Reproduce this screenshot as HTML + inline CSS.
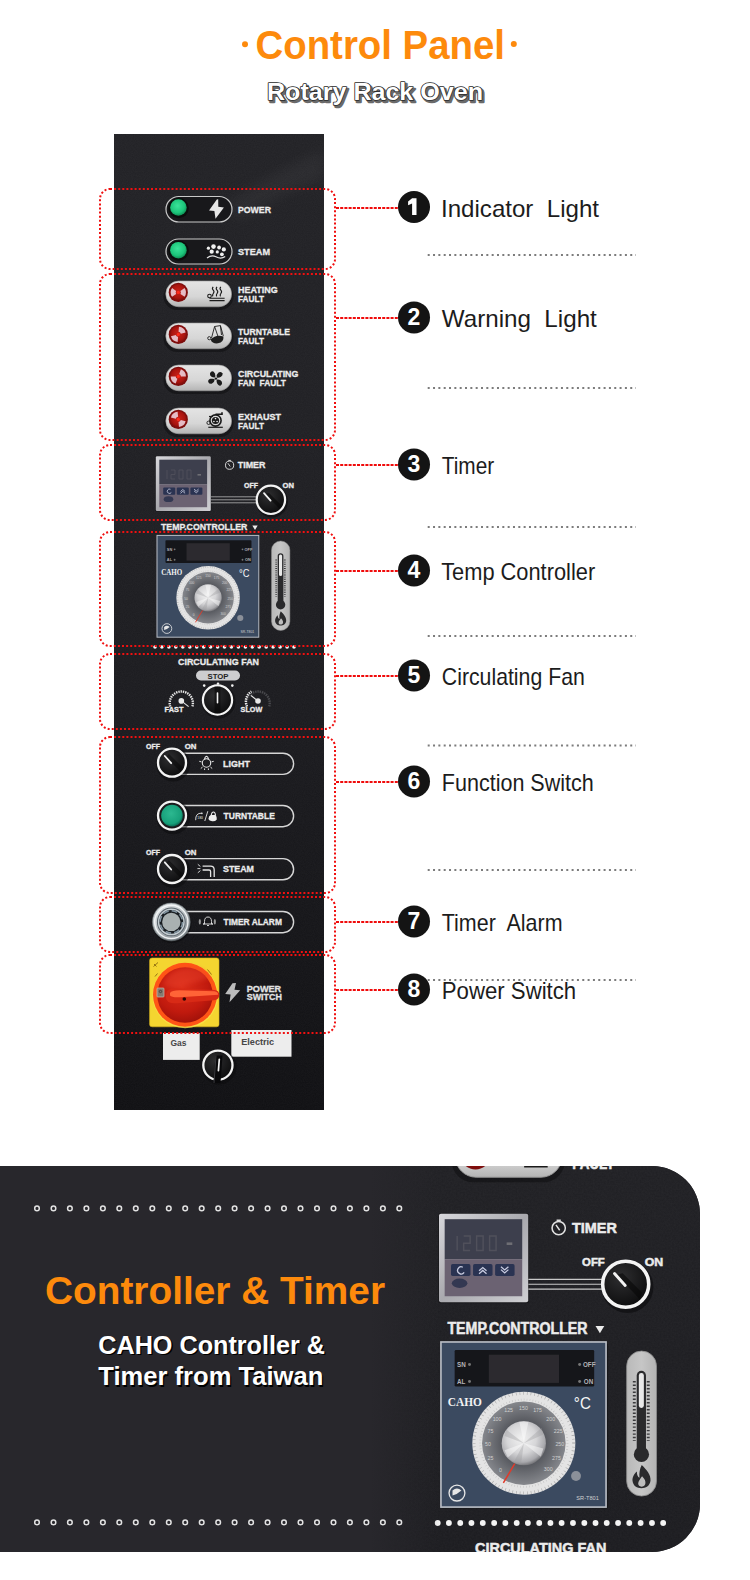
<!DOCTYPE html>
<html><head><meta charset="utf-8">
<style>
html,body{margin:0;padding:0;background:#fff;width:750px;height:1580px;overflow:hidden;}
body{position:relative;font-family:"Liberation Sans",sans-serif;}
svg{position:absolute;left:0;top:0;}
</style></head>
<body>
<svg width="750" height="1580" viewBox="0 0 750 1580" font-family="Liberation Sans, sans-serif">
<defs>
  <filter id="noise" x="0" y="0" width="100%" height="100%">
    <feTurbulence type="fractalNoise" baseFrequency="0.9" numOctaves="2" seed="3" result="n"/>
    <feColorMatrix in="n" type="matrix" values="0 0 0 0 1  0 0 0 0 1  0 0 0 0 1  0 0 0 0.04 0"/>
  </filter>

  <radialGradient id="gLed" cx="0.45" cy="0.4" r="0.6">
    <stop offset="0" stop-color="#3be39a"/><stop offset="0.7" stop-color="#1cc57a"/><stop offset="1" stop-color="#0f8f55"/>
  </radialGradient>
  <linearGradient id="gPill" x1="0" y1="0" x2="0" y2="1">
    <stop offset="0" stop-color="#e4e4e4"/><stop offset="0.6" stop-color="#d6d6d6"/><stop offset="1" stop-color="#b4b4b4"/>
  </linearGradient>
  <radialGradient id="gRed" cx="0.5" cy="0.45" r="0.55">
    <stop offset="0" stop-color="#c8231a"/><stop offset="0.7" stop-color="#a9140f"/><stop offset="1" stop-color="#7a0c09"/>
  </radialGradient>

  <linearGradient id="gSilver" x1="0" y1="0" x2="1" y2="1">
    <stop offset="0" stop-color="#d8d8dc"/><stop offset="0.5" stop-color="#a9a9ae"/><stop offset="1" stop-color="#cfcfd3"/>
  </linearGradient>
  <radialGradient id="gKnob" cx="0.4" cy="0.35" r="0.7">
    <stop offset="0" stop-color="#2e2e30"/><stop offset="1" stop-color="#0b0b0c"/>
  </radialGradient>
  <radialGradient id="gDisc" cx="0.5" cy="0.5" r="0.5">
    <stop offset="0.5" stop-color="#55575d"/><stop offset="1" stop-color="#85878c"/>
  </radialGradient>
  <radialGradient id="gKnobS" cx="0.45" cy="0.4" r="0.6">
    <stop offset="0" stop-color="#f2f2f2"/><stop offset="0.55" stop-color="#d6d6d8"/><stop offset="0.88" stop-color="#a9a9ad"/><stop offset="1" stop-color="#7a7a7e"/>
  </radialGradient>
  <linearGradient id="gThermo" x1="0" y1="0" x2="1" y2="0">
    <stop offset="0" stop-color="#b9b9b9"/><stop offset="0.5" stop-color="#c6c6c6"/><stop offset="1" stop-color="#b3b3b3"/>
  </linearGradient>

  <radialGradient id="gTeal" cx="0.45" cy="0.4" r="0.6">
    <stop offset="0" stop-color="#2cb890"/><stop offset="0.8" stop-color="#17a07a"/><stop offset="1" stop-color="#0c6a55"/>
  </radialGradient>
  <radialGradient id="gMetal" cx="0.4" cy="0.35" r="0.65">
    <stop offset="0" stop-color="#f2f4f5"/><stop offset="0.6" stop-color="#c5cbce"/><stop offset="1" stop-color="#7f878b"/>
  </radialGradient>
  <radialGradient id="gRedDial" cx="0.45" cy="0.35" r="0.65">
    <stop offset="0" stop-color="#dc2e1a"/><stop offset="0.7" stop-color="#c11a0e"/><stop offset="1" stop-color="#a3120a"/>
  </radialGradient>

  <linearGradient id="gFade" x1="0" y1="0" x2="1" y2="0">
    <stop offset="0" stop-color="#28272c"/><stop offset="0.84" stop-color="#28272c"/><stop offset="1" stop-color="#28272c" stop-opacity="0"/>
  </linearGradient>

  <linearGradient id="gPanel" x1="0" y1="134" x2="0" y2="1110" gradientUnits="userSpaceOnUse">
    <stop offset="0" stop-color="#212125"/><stop offset="0.3" stop-color="#1f1f23"/><stop offset="0.6" stop-color="#1a1a1e"/><stop offset="1" stop-color="#0f0f12"/>
  </linearGradient>

  <filter id="blur5" x="-50%" y="-50%" width="200%" height="200%"><feGaussianBlur stdDeviation="6"/></filter>

  <filter id="blur1" x="-50%" y="-50%" width="200%" height="200%"><feGaussianBlur stdDeviation="2"/></filter>
</defs>

<!-- ===== TITLE ===== -->
<g id="title">
  <circle cx="245" cy="44.3" r="3" fill="#fd8a0c"/>
  <circle cx="513.8" cy="44" r="3" fill="#fd8a0c"/>
  <text x="255.5" y="59" font-size="40" font-weight="bold" fill="#fd8a0c" textLength="249.5" lengthAdjust="spacingAndGlyphs">Control Panel</text>
  <text x="267" y="100.3" font-size="24" font-weight="bold" fill="#6a6a6a" stroke="#6a6a6a" stroke-width="2.4" stroke-linejoin="round" transform="translate(1.8,1.8)" textLength="216" lengthAdjust="spacingAndGlyphs">Rotary Rack Oven</text>
  <text x="267" y="100.3" font-size="24" font-weight="bold" fill="#fff" stroke="#2a2a2a" stroke-width="1.6" stroke-linejoin="round" paint-order="stroke" textLength="216" lengthAdjust="spacingAndGlyphs">Rotary Rack Oven</text>
</g>

<!-- ===== PANEL ===== -->
<g id="panel">
<g id="pc">
  <rect x="114" y="134" width="210" height="976" fill="url(#gPanel)"/>
  <rect x="114" y="134" width="210" height="976" filter="url(#noise)" opacity="1"/>
  <path d="M225 205 Q275 170 324 150 L324 180 Q285 190 240 220 Z" fill="#ffffff" opacity="0.035" filter="url(#blur5)"/>
  <!-- box1 -->
  <g id="b1">
    <rect x="166" y="196.5" width="66" height="25.5" rx="12.75" fill="#18181b" stroke="#c9c9c9" stroke-width="1.2"/>
    <rect x="166" y="239" width="66" height="25" rx="12.5" fill="#18181b" stroke="#c9c9c9" stroke-width="1.2"/>
    <circle cx="178.6" cy="208" r="10.2" fill="#0b0d0c"/>
    <circle cx="178.4" cy="207.5" r="8.3" fill="url(#gLed)"/>
    <circle cx="178.6" cy="250.6" r="10.2" fill="#0b0d0c"/>
    <circle cx="178.4" cy="250.2" r="8.3" fill="url(#gLed)"/>
    <path d="M216.8 199.5 L209 210.6 L214.4 211 L215.5 218.8 L223.9 207.4 L218.3 206.8 L218.2 199.3 Z" fill="#e6e6e6"/>
    <g fill="#f0f0f0">
      <circle cx="208.4" cy="248.2" r="1.6"/><circle cx="213.5" cy="246.6" r="2.3"/><circle cx="219.1" cy="247.5" r="1.9"/>
      <circle cx="223.8" cy="249.4" r="2.1"/><circle cx="211.7" cy="251.7" r="2.1"/><circle cx="217.3" cy="251.9" r="1.6"/><circle cx="221.9" cy="254.3" r="1.9"/>
    </g>
    <path d="M207 258 Q211.5 254.6 216 256.8 Q221 259.4 225.2 256.6" fill="none" stroke="#e6e6e6" stroke-width="1.2"/>
    <g fill="#ececec" stroke="#ececec" stroke-width="0.3" font-weight="bold" font-size="9.6">
      <text x="238" y="212.7" textLength="33" lengthAdjust="spacingAndGlyphs">POWER</text>
      <text x="238" y="255.3" textLength="32" lengthAdjust="spacingAndGlyphs">STEAM</text>
    </g>
  </g>
  <!-- box2 -->
  <g id="b2">
    <g id="rp">
      <rect x="163.5" y="283" width="70" height="27" rx="13.5" fill="#0e0e10" opacity="0.55"/>
      <rect x="165.8" y="281" width="65.8" height="25.8" rx="12.9" fill="url(#gPill)" stroke="#9c9c9c" stroke-width="0.6"/>
      <circle cx="178.3" cy="292.4" r="9.6" fill="#7d0e0e"/>
      <circle cx="178.3" cy="292.4" r="8.4" fill="url(#gRed)"/>
      
      
      
    </g>
    <use href="#rp" y="42"/>
    <use href="#rp" y="84"/>
    <use href="#rp" y="127"/>
    <g transform="translate(0 0) rotate(0 178.3 292.4)"><path d="M172.07 296.76 A7.6 7.6 0 0 1 172.07 288.04 L176.17 290.91 A2.6 2.6 0 0 0 176.17 293.89 Z" fill="#eed8e4" opacity="0.85"/><path d="M184.53 288.04 A7.6 7.6 0 0 1 184.53 296.76 L180.43 293.89 A2.6 2.6 0 0 0 180.43 290.91 Z" fill="#eed8e4" opacity="0.85"/></g><circle cx="178.3" cy="292.4" r="1.6" fill="#ff2a1a"/><g transform="translate(0 42) rotate(-50 178.3 292.4)"><path d="M172.07 296.76 A7.6 7.6 0 0 1 172.07 288.04 L176.17 290.91 A2.6 2.6 0 0 0 176.17 293.89 Z" fill="#eed8e4" opacity="0.85"/><path d="M184.53 288.04 A7.6 7.6 0 0 1 184.53 296.76 L180.43 293.89 A2.6 2.6 0 0 0 180.43 290.91 Z" fill="#eed8e4" opacity="0.85"/></g><circle cx="178.3" cy="334.4" r="1.6" fill="#ff2a1a"/><g transform="translate(0 84) rotate(-35 178.3 292.4)"><path d="M172.07 296.76 A7.6 7.6 0 0 1 172.07 288.04 L176.17 290.91 A2.6 2.6 0 0 0 176.17 293.89 Z" fill="#eed8e4" opacity="0.85"/><path d="M184.53 288.04 A7.6 7.6 0 0 1 184.53 296.76 L180.43 293.89 A2.6 2.6 0 0 0 180.43 290.91 Z" fill="#eed8e4" opacity="0.85"/></g><circle cx="178.3" cy="376.4" r="1.6" fill="#ff2a1a"/><g transform="translate(0 127) rotate(50 178.3 292.4)"><path d="M172.07 296.76 A7.6 7.6 0 0 1 172.07 288.04 L176.17 290.91 A2.6 2.6 0 0 0 176.17 293.89 Z" fill="#eed8e4" opacity="0.85"/><path d="M184.53 288.04 A7.6 7.6 0 0 1 184.53 296.76 L180.43 293.89 A2.6 2.6 0 0 0 180.43 290.91 Z" fill="#eed8e4" opacity="0.85"/></g><circle cx="178.3" cy="419.4" r="1.6" fill="#ff2a1a"/>
    <!-- heating icon -->
    <g fill="none" stroke="#1a1a1a" stroke-width="1.1">
      <path d="M213.2 286.8 q-1.6 1.7 0 3.4 q1.6 1.7 0 3.4 q-1.2 1.3 -0.3 2.8"/>
      <path d="M217 286.8 q-1.6 1.7 0 3.4 q1.6 1.7 0 3.4 q-1.2 1.3 -0.3 2.8"/>
      <path d="M220.8 286.8 q-1.6 1.7 0 3.4 q1.6 1.7 0 3.4 q-1.2 1.3 -0.3 2.8"/>
      <path d="M209.5 298.3 H224.6 M209.5 300.6 H224.6"/>
      <circle cx="209.5" cy="296" r="1.8"/>
    </g>
    <!-- turntable icon -->
    <g fill="none" stroke="#1e1e1e" stroke-width="0.9">
      <path d="M211.5 338 L214.6 326.5 L220.4 325.6 L223.3 336 M214.6 326.5 L218 336.5 M220.4 325.6 L221.5 335"/>
      <circle cx="209.3" cy="338.2" r="1.6"/>
    </g>
    <path d="M210.5 339.5 Q216 334 223.5 336.5 Q224 342 218 343.3 Q212.5 344 210.5 339.5 Z" fill="#1e1e1e"/>
    <!-- fan icon -->
    <g fill="#1c1c1c"><path transform="translate(215.9 378.6) rotate(-127)" d="M1.6 -0.4 Q3.2 -2.9 6.2 -2.6 Q8.6 -1.8 8.3 0.7 Q7.7 2.8 4.9 2.3 Q2.8 1.8 1.6 0.4 Z"/><path transform="translate(215.9 378.6) rotate(-44)" d="M1.6 -0.4 Q3.2 -2.9 6.2 -2.6 Q8.6 -1.8 8.3 0.7 Q7.7 2.8 4.9 2.3 Q2.8 1.8 1.6 0.4 Z"/><path transform="translate(215.9 378.6) rotate(50)" d="M1.6 -0.4 Q3.2 -2.9 6.2 -2.6 Q8.6 -1.8 8.3 0.7 Q7.7 2.8 4.9 2.3 Q2.8 1.8 1.6 0.4 Z"/><path transform="translate(215.9 378.6) rotate(152)" d="M1.6 -0.4 Q3.2 -2.9 6.2 -2.6 Q8.6 -1.8 8.3 0.7 Q7.7 2.8 4.9 2.3 Q2.8 1.8 1.6 0.4 Z"/><circle cx="215.9" cy="378.6" r="1.2"/></g>
    <!-- exhaust icon -->
    <g fill="none" stroke="#1a1a1a">
      <circle cx="215.5" cy="420.5" r="5.6" stroke-width="1.6"/>
      <path d="M215.5 414.2 H222 V412.3" stroke-width="1.6"/>
      <path d="M208.3 427.3 H222.8" stroke-width="1.2"/>
      <circle cx="208.6" cy="422.8" r="1.7" stroke-width="0.9"/>
      <path d="M209 416.5 H213" stroke-width="1.2"/>
    </g>
    <circle cx="215.5" cy="420.5" r="3.6" fill="#1a1a1a"/>
    <g fill="#f0f0f0"><circle cx="215.5" cy="418.6" r="0.8"/><circle cx="213.9" cy="421.5" r="0.8"/><circle cx="217.1" cy="421.5" r="0.8"/></g>
    <g fill="#ececec" stroke="#ececec" stroke-width="0.3" font-weight="bold" font-size="9.6">
      <text x="238" y="293" textLength="39.7" lengthAdjust="spacingAndGlyphs">HEATING</text>
      <text x="238" y="301.7" textLength="26" lengthAdjust="spacingAndGlyphs">FAULT</text>
      <text x="238" y="335" textLength="52" lengthAdjust="spacingAndGlyphs">TURNTABLE</text>
      <text x="238" y="343.7" textLength="26" lengthAdjust="spacingAndGlyphs">FAULT</text>
      <text x="238" y="377" textLength="60.4" lengthAdjust="spacingAndGlyphs">CIRCULATING</text>
      <text x="238" y="385.7" textLength="48" lengthAdjust="spacingAndGlyphs" style="white-space:pre">FAN&#160; FAULT</text>
      <text x="238" y="420" textLength="43" lengthAdjust="spacingAndGlyphs">EXHAUST</text>
      <text x="238" y="428.7" textLength="26" lengthAdjust="spacingAndGlyphs">FAULT</text>
    </g>
  </g>
  
  <!-- box3 timer -->
  <g id="b3">
    <rect x="155.3" y="456" width="56" height="55.5" rx="1.5" fill="#121214" opacity="0.6"/>
    <rect x="155.8" y="456.3" width="55" height="54.6" rx="1.2" fill="url(#gSilver)"/>
    <rect x="159.3" y="459.7" width="47.8" height="24.7" fill="#3d3f4d"/>
    <rect x="159.3" y="484.4" width="47.8" height="22.8" fill="#6b6272"/>
    <g fill="none" stroke="#55555f" stroke-width="0.9" opacity="0.8">
      <path d="M167 470 v9 M171 470 h4 v4.5 h-4 v4.5 h4 M179 470 h4 v9 h-4 z M187 470 h4 v9 h-4 z"/>
    </g>
    <rect x="197.5" y="474" width="3.5" height="1.6" fill="#6e6e74"/>
    <rect x="163.2" y="487.4" width="12" height="7.3" rx="1" fill="#2a3352"/>
    <rect x="176.8" y="487.4" width="12" height="7.3" rx="1" fill="#2a3352"/>
    <rect x="190.4" y="487.4" width="12" height="7.3" rx="1" fill="#2a3352"/>
    <g fill="none" stroke="#c8cbe0" stroke-width="0.8">
      <path d="M170.5 489.3 A2.2 2.2 0 1 0 171.3 492.5"/>
      <path d="M180.5 491.5 l2.3 -2 l2.3 2 M180.5 493.3 l2.3 -2 l2.3 2"/>
      <path d="M194 489 l2.3 2 l2.3 -2 M194 490.8 l2.3 2 l2.3 -2"/>
    </g>
    <ellipse cx="168.5" cy="499.2" rx="4.8" ry="2.9" fill="#333852"/>
    <circle cx="229.6" cy="465.2" r="4.1" fill="none" stroke="#e0e0e0" stroke-width="0.95"/>
    <path d="M228.3 460.4 H230.9 M227.9 463.2 L230.2 466.5" fill="none" stroke="#e0e0e0" stroke-width="0.9"/>
    <g fill="#ececec" stroke="#ececec" stroke-width="0.3" font-weight="bold">
      <text x="237.8" y="468.2" font-size="9.2" textLength="27.7" lengthAdjust="spacingAndGlyphs">TIMER</text>
      <text x="244" y="488.4" font-size="7" textLength="14" lengthAdjust="spacingAndGlyphs">OFF</text>
      <text x="282.6" y="488.4" font-size="7" textLength="11.4" lengthAdjust="spacingAndGlyphs">ON</text>
      <text x="161" y="530.2" font-size="9.6" textLength="86.4" lengthAdjust="spacingAndGlyphs">TEMP.CONTROLLER</text>
    </g>
    <path d="M252.3 525.6 H257.7 L255 530 Z" fill="#ececec"/>
    <g stroke="#c9c9c9" stroke-width="0.7">
      <line x1="210.9" y1="496.8" x2="257" y2="496.8"/>
      <line x1="210.9" y1="499.8" x2="257" y2="499.8"/>
      <line x1="210.9" y1="502.8" x2="257" y2="502.8"/>
    </g>
    <g id="knobA">
      <circle cx="272" cy="501.5" r="16" fill="#0a0a0b" opacity="0.55"/>
      <circle cx="270.9" cy="499.8" r="14.2" fill="url(#gKnob)" stroke="#f4f4f4" stroke-width="2.2"/>
      <path d="M265 494 L276.5 505.6 L279.5 509 L281 505 L269 493 Z" fill="#060606" opacity="0.6"/>
      <line x1="264" y1="493.2" x2="270.6" y2="500.6" stroke="#f2f2f2" stroke-width="1.8" stroke-linecap="round"/>
    </g>
  </g>
  <!-- box4 controller -->
  <g id="b4">
    <rect x="157.5" y="536.5" width="102.5" height="101.5" fill="#0c0c0e" opacity="0.5"/>
    <g transform="translate(157,535.4) scale(1.018)">
      <rect x="0" y="0" width="100" height="100" fill="#3b4a60" stroke="#b8bcc4" stroke-width="1"/>
      <rect x="8.3" y="4.8" width="84.5" height="22.2" rx="0.8" fill="#15161a"/>
      <rect x="29" y="7.7" width="42.5" height="17.1" fill="#2c2a2f"/>
      <g fill="#b4b4b8" font-size="3.8" font-weight="bold">
        <text x="9.7" y="15.2">SN</text><text x="9.7" y="25.4">AL</text>
        <text x="86" y="15.2">OFF</text><text x="86.5" y="25.4">ON</text>
      </g>
      <circle cx="17.3" cy="13.7" r="0.9" fill="#777"/><circle cx="17.3" cy="23.9" r="0.9" fill="#777"/>
      <circle cx="84" cy="13.7" r="0.9" fill="#777"/><circle cx="84" cy="23.9" r="0.9" fill="#777"/>
      <text x="4.2" y="38.8" font-family="Liberation Serif, serif" font-weight="bold" font-size="7.2" fill="#f2f2f2" textLength="20.6" lengthAdjust="spacingAndGlyphs">CAHO</text>
      <text x="80.5" y="40.6" font-size="10.5" fill="#f5f5f5" textLength="10.3" lengthAdjust="spacingAndGlyphs">°C</text>
      <circle cx="50.2" cy="61.3" r="31.2" fill="#e4e4e4"/>
      <circle cx="50.2" cy="61.3" r="30.2" fill="none" stroke="#555" stroke-width="1.8" stroke-dasharray="0.35 1.9" opacity="0.45"/><circle cx="50.2" cy="61.3" r="26.4" fill="none" stroke="#777" stroke-width="1.2" stroke-dasharray="0.3 1.5" opacity="0.35"/>
      <circle cx="50.2" cy="61.3" r="25.3" fill="url(#gDisc)"/>
      <g fill="#d0d0d0" font-size="3.2" text-anchor="middle">
        <text x="34" y="48">100</text><text x="41" y="42.5">125</text><text x="50" y="41">150</text><text x="58.5" y="42.5">175</text>
        <text x="66.5" y="48">200</text><text x="71" y="55">225</text><text x="72" y="63">250</text><text x="70" y="71.5">275</text>
        <text x="65" y="78">300</text><text x="30" y="55">75</text><text x="28.5" y="63">50</text><text x="30" y="71.5">25</text><text x="36" y="79">0</text>
      </g>
      <circle cx="50.2" cy="61.3" r="13.4" fill="url(#gKnobS)"/>
      <path d="M50.2 61.3 L47.5 48.5 L53 48.5 Z M50.2 61.3 L62 64.5 L60.5 69.5 Z M50.2 61.3 L40.5 70 L38.5 65.5 Z" fill="#fff" opacity="0.45"/><path d="M50.2 61.3 L62 56 L61 52 Z M50.2 61.3 L44 73 L48.5 74 Z M50.2 61.3 L38.5 57 L39.5 53 Z" fill="#9a9a9e" opacity="0.35"/>
      <line x1="44.7" y1="73.7" x2="37.8" y2="85.4" stroke="#e23a2a" stroke-width="0.9"/>
      <circle cx="81.8" cy="81.2" r="3" fill="#8b9099"/>
      <circle cx="9.7" cy="91.5" r="4.8" fill="none" stroke="#e6e6e6" stroke-width="0.8"/>
      <path d="M7 90 q2.7 -2.5 5.4 0 q-2.7 2.5 -5.4 3 z" fill="#e6e6e6"/>
      <text x="82" y="95.6" font-size="3.4" fill="#d0d0d0">SR-T801</text>
    </g>
    <!-- thermometer -->
    <rect x="271.5" y="541" width="18.4" height="89.4" rx="9.2" fill="url(#gThermo)" stroke="#8c8c8c" stroke-width="0.5"/>
    <rect x="277.7" y="553.2" width="5.7" height="52" rx="2.85" fill="#2a2a2c"/>
    <circle cx="280.6" cy="604.7" r="4.7" fill="#2a2a2c"/>
    <rect x="279" y="554.5" width="3.1" height="21.6" rx="1.5" fill="#e8e8e8"/>
    <g stroke="#3a3a3c" stroke-width="0.8" stroke-dasharray="0.9 1.25">
      <line x1="276.2" y1="559.5" x2="276.2" y2="596.5" stroke-width="1.8"/>
      <line x1="284.8" y1="559.5" x2="284.8" y2="596.5" stroke-width="1.8"/>
    </g>
    <path d="M280.8 611.3 C283.8 614.3 286.6 617.5 286.2 621 C285.8 624.2 283.2 625.6 280.6 625.6 C278 625.6 275.4 624.2 275.1 621 C274.9 618.5 276.3 616.4 277.8 615.2 C277.7 617.2 278.4 618.6 279.4 619.1 C279.1 616.4 279.6 613.4 280.8 611.3 Z" fill="#2a2a2c"/>
    <path d="M281 618.2 C282.6 619.8 283.4 621.4 283 622.9 C282.6 624 281.6 624.6 280.6 624.6 C279.5 624.6 278.6 623.8 278.6 622.7 C278.6 621.1 280 619.8 281 618.2 Z" fill="#bdbdbd"/>
  </g>
  <!-- dotted white row -->
  <g fill="#f4f4f4" id="wdots"><circle cx="155.0" cy="647" r="1.8"/><circle cx="161.9" cy="647" r="1.8"/><circle cx="168.9" cy="647" r="1.8"/><circle cx="175.8" cy="647" r="1.8"/><circle cx="182.8" cy="647" r="1.8"/><circle cx="189.8" cy="647" r="1.8"/><circle cx="196.7" cy="647" r="1.8"/><circle cx="203.7" cy="647" r="1.8"/><circle cx="210.6" cy="647" r="1.8"/><circle cx="217.6" cy="647" r="1.8"/><circle cx="224.5" cy="647" r="1.8"/><circle cx="231.4" cy="647" r="1.8"/><circle cx="238.4" cy="647" r="1.8"/><circle cx="245.4" cy="647" r="1.8"/><circle cx="252.3" cy="647" r="1.8"/><circle cx="259.2" cy="647" r="1.8"/><circle cx="266.2" cy="647" r="1.8"/><circle cx="273.1" cy="647" r="1.8"/><circle cx="280.1" cy="647" r="1.8"/><circle cx="287.1" cy="647" r="1.8"/><circle cx="294.0" cy="647" r="1.8"/></g>
  
  <!-- box5 circulating fan -->
  <g id="b5">
    <g fill="#ececec" stroke="#ececec" stroke-width="0.3" font-weight="bold">
      <text x="178" y="665.4" font-size="9.2" textLength="81" lengthAdjust="spacingAndGlyphs">CIRCULATING FAN</text>
      <text x="164.6" y="712.3" font-size="7.4" textLength="18.8" lengthAdjust="spacingAndGlyphs">FAST</text>
      <text x="240.6" y="712.3" font-size="7.4" textLength="21.7" lengthAdjust="spacingAndGlyphs">SLOW</text>
    </g>
    <rect x="196" y="670.6" width="44" height="9.8" rx="4.9" fill="#cdcdcf"/>
    <text x="218" y="678.7" font-size="8" font-weight="bold" fill="#232323" text-anchor="middle" textLength="21" lengthAdjust="spacingAndGlyphs">STOP</text>
    <g fill="#f0f0f0"><circle cx="204.2" cy="685.6" r="1.3"/><circle cx="218" cy="683.8" r="1.3"/><circle cx="232.3" cy="685.6" r="1.3"/></g>
    <circle cx="218.6" cy="701.6" r="17" fill="#0a0a0b" opacity="0.5"/>
    <circle cx="217.5" cy="700" r="14.6" fill="url(#gKnob)" stroke="#f4f4f4" stroke-width="2.2"/>
    <rect x="214.6" y="686.5" width="5.8" height="27" fill="#050505" opacity="0.55"/>
    <line x1="217.5" y1="693" x2="217.5" y2="702.8" stroke="#f2f2f2" stroke-width="1.6" stroke-linecap="round"/>
    <!-- fast gauge -->
    <path d="M170.2 706.5 A11.6 11.6 0 1 1 192.4 706.5" fill="none" stroke="#e8e8e8" stroke-width="2.4" stroke-dasharray="1.4 0.9"/>
    <circle cx="181.3" cy="700.9" r="2.8" fill="#e8e8e8"/>
    <line x1="181.3" y1="700.9" x2="188.6" y2="706.6" stroke="#e8e8e8" stroke-width="1.1"/>
    <!-- slow gauge -->
    <path d="M247 706.5 A11.6 11.6 0 1 1 269.2 706.5" fill="none" stroke="#4a4a4e" stroke-width="2.4" stroke-dasharray="1.4 0.9"/>
    <path d="M247 706.5 A11.6 11.6 0 0 1 251.5 691.5" fill="none" stroke="#e8e8e8" stroke-width="2.4" stroke-dasharray="1.4 0.9"/>
    <circle cx="258" cy="701" r="2.8" fill="#e8e8e8"/>
    <line x1="258" y1="701" x2="251" y2="695.5" stroke="#e8e8e8" stroke-width="1.1"/>
  </g>
  <!-- box6 function switches -->
  <g id="b6">
    <g fill="none" stroke="#d6d6d6" stroke-width="1.4">
      <rect x="170" y="753.2" width="123.6" height="21.2" rx="10.6"/>
      <rect x="170" y="805.5" width="123.6" height="21.2" rx="10.6"/>
      <rect x="170" y="858.6" width="123.6" height="21.2" rx="10.6"/>
      <rect x="172" y="911.5" width="121.6" height="21.2" rx="10.6"/>
    </g>
    <g fill="#ececec" stroke="#ececec" stroke-width="0.3" font-weight="bold">
      <text x="146" y="749" font-size="7" textLength="14" lengthAdjust="spacingAndGlyphs">OFF</text>
      <text x="184.8" y="749" font-size="7" textLength="11.7" lengthAdjust="spacingAndGlyphs">ON</text>
      <text x="146" y="854.7" font-size="7" textLength="14" lengthAdjust="spacingAndGlyphs">OFF</text>
      <text x="184.8" y="854.7" font-size="7" textLength="11.7" lengthAdjust="spacingAndGlyphs">ON</text>
      <text x="223" y="766.8" font-size="9.4" textLength="26.9" lengthAdjust="spacingAndGlyphs">LIGHT</text>
      <text x="223.6" y="819.2" font-size="9.4" textLength="51.2" lengthAdjust="spacingAndGlyphs">TURNTABLE</text>
      <text x="223" y="872.4" font-size="9.4" textLength="31" lengthAdjust="spacingAndGlyphs">STEAM</text>
      <text x="223.6" y="925.4" font-size="9.4" textLength="58.3" lengthAdjust="spacingAndGlyphs">TIMER ALARM</text>
    </g>
    
    <use href="#knobB" transform="translate(0,106.3)"/>
    <g id="knobB" >
      <circle cx="173.2" cy="764.5" r="17" fill="#0a0a0b" opacity="0.5"/>
      <circle cx="172" cy="762.7" r="14" fill="url(#gKnob)" stroke="#f4f4f4" stroke-width="2.3"/>
      <path d="M166 757 L180 771 L183 768 L169 754 Z" fill="#050505" opacity="0.5"/>
      <line x1="164.8" y1="756" x2="171.2" y2="763.2" stroke="#f2f2f2" stroke-width="1.8" stroke-linecap="round"/>
    </g>
    <!-- green button -->
    <circle cx="173.2" cy="817.3" r="17" fill="#0a0a0b" opacity="0.5"/>
    <circle cx="172" cy="815.6" r="14" fill="#1b1b1d" stroke="#f4f4f4" stroke-width="2.3"/>
    <circle cx="172" cy="815.6" r="10.8" fill="url(#gTeal)"/>
    <!-- icons -->
    <g fill="none" stroke="#e6e6e6" stroke-width="0.9">
      <circle cx="206.5" cy="763" r="4.2" stroke-width="1.1"/>
      <path d="M204.6 759.6 Q204.8 756.6 206.5 756.3 Q208.2 756.6 208.4 759.6" stroke-width="1.1"/>
      <path d="M199.3 761.3 l2.2 0.6 M213.7 761.3 l-2.2 0.6 M200.8 768.5 l1.7 -1.4 M212.2 768.5 l-1.7 -1.4 M204.6 770 v-1.6 M208.4 770 v-1.6" stroke-width="1"/>
      <path d="M195.7 820.2 Q195.3 812.8 201.8 813.2"/>
      <path d="M207.8 811.2 L204.8 821"/>
      <path d="M211.2 815.6 Q211.6 812 213.4 812 Q215.2 812 215.6 815.6" stroke-width="1.1"/>
      <path d="M197.8 864.3 l2.6 2.2 M197.4 868.6 h3 M197.8 872.8 l2.6 -2.2" stroke-width="0.9"/>
      <path d="M202.6 866.2 H210.5 Q214.2 866.2 214.2 870 V877 M202.6 870 H209 Q210.6 870 210.6 871.6 V877" stroke-width="1.3"/>
      <path d="M204.5 921.5 q0 -4.5 3.5 -4.5 q3.5 0 3.5 4.5 v2.5 h1.5 h-10 h1.5 z M207 925.5 h2"/>
      
    </g>
    <circle cx="201.9" cy="813.4" r="0.8" fill="#e6e6e6"/>
    <text x="197.3" y="818.6" font-size="3.4" font-weight="bold" fill="#bdbdbd">180</text>
    <path d="M208.4 819 Q208.8 815.6 210.8 815.1 L215.6 815.1 Q217 817 216.8 819.4 Q215.2 821.6 212.2 821.3 Q209 821 208.4 819 Z" fill="#ededed"/>
    <ellipse cx="199.8" cy="921.8" rx="1.1" ry="2.8" fill="#9a9a9a"/><ellipse cx="214.8" cy="921.8" rx="1.1" ry="2.8" fill="#9a9a9a"/>
    <!-- metal alarm button -->
    <circle cx="172" cy="923.5" r="19.5" fill="#0a0a0b" opacity="0.5"/>
    <circle cx="171.3" cy="921.9" r="18.9" fill="url(#gMetal)" stroke="#6f777b" stroke-width="0.6"/>
    <circle cx="171.3" cy="921.9" r="16.6" fill="none" stroke="#f6f8f9" stroke-width="1.4" opacity="0.9"/>
    <circle cx="171.3" cy="921.9" r="14.4" fill="#59626a"/>
    <circle cx="171.3" cy="921.9" r="13.4" fill="#c3ccd0"/>
    <circle cx="171.3" cy="921.9" r="11.9" fill="#1a1f23"/>
    <circle cx="171.3" cy="921.9" r="11.2" fill="none" stroke="#8294a0" stroke-width="1.6" stroke-dasharray="5.8 3"/>
    <circle cx="171.3" cy="921.9" r="9.2" fill="#a9b1b1"/>
  </g>
  <!-- box8 power switch -->
  <g id="b8">
    <rect x="149.6" y="958" width="69.4" height="68.8" rx="2.5" fill="#f4d530"/>
    <rect x="149.6" y="958" width="69.4" height="68.8" rx="2.5" fill="none" stroke="#d8b21c" stroke-width="0.6"/>
    <path d="M153.5 966.5 L158 962.5 M154 964 L156.5 966.5 M155 976.5 L157.5 973.5 M207.5 969.5 L211.5 974.5 M208 1012 L211 1015" stroke="#8a6a10" stroke-width="0.9" fill="none"/>
    <circle cx="185.2" cy="995.5" r="32.8" fill="#f8e04a" opacity="0.8"/>
    <circle cx="185" cy="994.8" r="32" fill="#ff5516"/>
    <circle cx="185" cy="995" r="27.8" fill="url(#gRedDial)"/>
    <path d="M163 985 Q170 968 190 967.5 Q205 968 210 978 L175 988 Z" fill="#e8402a" opacity="0.45" filter="url(#blur1)"/>
    <path d="M166 994 Q166.5 988.5 176 988.6 L214.5 990 Q219.5 990.6 219.2 995.2 Q219 999.6 214 1000.2 L177 1003.2 Q166.5 1003.8 166 998 Z" fill="#d82a16"/>
    <path d="M170 993 Q171.5 990.2 179.5 990.2 L214.5 991.2 Q218.3 991.8 218.2 994.8 L180 997.2 Q171.5 997.6 170 995.5 Z" fill="#ff6437"/>
    <circle cx="184.3" cy="999" r="1.8" fill="#2a0805"/>
    <rect x="157" y="988" width="7" height="9" rx="0.8" fill="#857a70" stroke="#d4ccc0" stroke-width="0.6"/>
    <circle cx="160.5" cy="991.5" r="1.2" fill="none" stroke="#2a2520" stroke-width="0.6"/>
    <path d="M232.5 983.2 L225.2 994 L230.6 994.5 L229.5 1002.3 L240.2 990.3 L234.5 989.8 L236 983 Z" fill="#bcbcbc"/>
    <g fill="#e4e4e4" stroke="#e4e4e4" stroke-width="0.3" font-weight="bold">
      <text x="246.7" y="991.6" font-size="9.2" textLength="34.5" lengthAdjust="spacingAndGlyphs">POWER</text>
      <text x="246.7" y="1000.4" font-size="9.2" textLength="35.2" lengthAdjust="spacingAndGlyphs">SWITCH</text>
    </g>
    <rect x="163" y="1033" width="36.7" height="26.9" fill="#ededed"/>
    <rect x="231.3" y="1030" width="60.2" height="26.7" fill="#ededed"/>
    <text x="170.5" y="1045.5" font-size="8.4" fill="#474747" font-weight="bold" textLength="16" lengthAdjust="spacingAndGlyphs">Gas</text>
    <text x="241.2" y="1045" font-size="8.4" fill="#474747" font-weight="bold" textLength="33" lengthAdjust="spacingAndGlyphs">Electric</text>
    <circle cx="219" cy="1067" r="17.5" fill="#0a0a0b" opacity="0.5"/>
    <circle cx="217.9" cy="1065.2" r="14.6" fill="url(#gKnob)" stroke="#f4f4f4" stroke-width="2.3"/>
    <path d="M215.5 1055.5 L222.5 1055.5 L220.5 1083 L213.5 1083 Z" fill="#08080a"/>
    <path d="M215.5 1055.5 L216.5 1055.5 L214.5 1083 L213.5 1083 Z" fill="#3a3a3e"/>
    <line x1="219.3" y1="1059.3" x2="218.4" y2="1070.6" stroke="#f2f2f2" stroke-width="1.7" stroke-linecap="round"/>
  </g>


</g>
</g>

<!-- ===== RED DOTTED BOXES ===== -->
<g id="boxes" fill="none" stroke="#f01010" stroke-width="2" stroke-dasharray="2 2.1">
  <rect x="100" y="189" width="235" height="80" rx="10"/>
  <rect x="100" y="274" width="235" height="166" rx="10"/>
  <rect x="100" y="445" width="235" height="75" rx="10"/>
  <rect x="100" y="532" width="235" height="114" rx="10"/>
  <rect x="100" y="654" width="235" height="75" rx="10"/>
  <rect x="100" y="737" width="235" height="156" rx="10"/>
  <rect x="100" y="897" width="235" height="55" rx="10"/>
  <rect x="100" y="955" width="235" height="78" rx="10"/>
</g>

<!-- ===== CALLOUTS ===== -->
<g id="callouts">
  <g stroke="#f00c0c" stroke-width="1.9" stroke-dasharray="3 1.2">
    <line x1="336" y1="208" x2="400" y2="208"/>
    <line x1="336" y1="318" x2="400" y2="318"/>
    <line x1="336" y1="465" x2="400" y2="465"/>
    <line x1="336" y1="571" x2="400" y2="571"/>
    <line x1="336" y1="676" x2="400" y2="676"/>
    <line x1="336" y1="782" x2="400" y2="782"/>
    <line x1="336" y1="922" x2="400" y2="922"/>
    <line x1="336" y1="990" x2="400" y2="990"/>
  </g>
  <g fill="#141414">
    <circle cx="414" cy="207" r="16"/>
    <circle cx="414" cy="317.4" r="16"/>
    <circle cx="414" cy="464.4" r="16"/>
    <circle cx="414" cy="570.4" r="16"/>
    <circle cx="414" cy="675.4" r="16"/>
    <circle cx="414" cy="781.4" r="16"/>
    <circle cx="414" cy="921.4" r="16"/>
    <circle cx="414" cy="989.4" r="16"/>
  </g>
  <g fill="#fff" font-size="23" font-weight="bold" text-anchor="middle">
    <path d="M412.1 198.3 H416.5 V215 H412.1 V203.4 L408.1 205.3 V201.4 Z" stroke="none"/>
    <text x="414" y="325">2</text>
    <text x="414" y="472">3</text>
    <text x="414" y="578">4</text>
    <text x="414" y="683">5</text>
    <text x="414" y="789">6</text>
    <text x="414" y="929">7</text>
    <text x="414" y="997">8</text>
  </g>
  <g fill="#1c1c1c" font-size="24" style="white-space:pre">
    <text x="441" y="216.5" textLength="158" lengthAdjust="spacingAndGlyphs">Indicator&#160; Light</text>
    <text x="441.8" y="327" textLength="155" lengthAdjust="spacingAndGlyphs">Warning&#160; Light</text>
    <text x="441.8" y="474" textLength="52.4" lengthAdjust="spacingAndGlyphs">Timer</text>
    <text x="441.2" y="580" textLength="154" lengthAdjust="spacingAndGlyphs">Temp Controller</text>
    <text x="441.8" y="685" textLength="143" lengthAdjust="spacingAndGlyphs">Circulating Fan</text>
    <text x="441.8" y="791" textLength="152" lengthAdjust="spacingAndGlyphs">Function Switch</text>
    <text x="441.8" y="931" textLength="120.7" lengthAdjust="spacingAndGlyphs">Timer&#160; Alarm</text>
    <text x="441.8" y="999" textLength="134.4" lengthAdjust="spacingAndGlyphs">Power Switch</text>
  </g>
  <g stroke="#7c7c7c" stroke-width="2" stroke-dasharray="2 3.33">
    <line x1="427.7" y1="255" x2="636" y2="255"/>
    <line x1="427.7" y1="388" x2="636" y2="388"/>
    <line x1="427.7" y1="527" x2="636" y2="527"/>
    <line x1="427.7" y1="636" x2="636" y2="636"/>
    <line x1="427.7" y1="745.5" x2="636" y2="745.5"/>
    <line x1="427.7" y1="870" x2="636" y2="870"/>
    <line x1="427.7" y1="980" x2="636" y2="980"/>
  </g>
</g>

<!-- ===== BANNER ===== -->
<g id="banner">
  <clipPath id="bclip"><path d="M0 1166 H652 A48 48 0 0 1 700 1214 V1504 A48 48 0 0 1 652 1552 H0 Z"/></clipPath>
  <path d="M0 1166 H652 A48 48 0 0 1 700 1214 V1504 A48 48 0 0 1 652 1552 H0 Z" fill="#28272c"/>
  <g clip-path="url(#bclip)">
    <use href="#pc" transform="translate(439,1214) scale(1.622) translate(-155.8,-456.5)"/>
    <rect x="0" y="1166" width="440" height="386" fill="url(#gFade)"/>
  </g>
  <g fill="none" stroke="#e2e2e2" stroke-width="1.5" id="bdots">
<circle cx="37.0" cy="1208.4" r="2.3"/><circle cx="53.5" cy="1208.4" r="2.3"/><circle cx="69.9" cy="1208.4" r="2.3"/><circle cx="86.4" cy="1208.4" r="2.3"/><circle cx="102.9" cy="1208.4" r="2.3"/><circle cx="119.3" cy="1208.4" r="2.3"/><circle cx="135.8" cy="1208.4" r="2.3"/><circle cx="152.3" cy="1208.4" r="2.3"/><circle cx="168.8" cy="1208.4" r="2.3"/><circle cx="185.2" cy="1208.4" r="2.3"/><circle cx="201.7" cy="1208.4" r="2.3"/><circle cx="218.2" cy="1208.4" r="2.3"/><circle cx="234.6" cy="1208.4" r="2.3"/><circle cx="251.1" cy="1208.4" r="2.3"/><circle cx="267.6" cy="1208.4" r="2.3"/><circle cx="284.0" cy="1208.4" r="2.3"/><circle cx="300.5" cy="1208.4" r="2.3"/><circle cx="317.0" cy="1208.4" r="2.3"/><circle cx="333.5" cy="1208.4" r="2.3"/><circle cx="349.9" cy="1208.4" r="2.3"/><circle cx="366.4" cy="1208.4" r="2.3"/><circle cx="382.9" cy="1208.4" r="2.3"/><circle cx="399.3" cy="1208.4" r="2.3"/>
<circle cx="37.0" cy="1522.4" r="2.3"/><circle cx="53.5" cy="1522.4" r="2.3"/><circle cx="69.9" cy="1522.4" r="2.3"/><circle cx="86.4" cy="1522.4" r="2.3"/><circle cx="102.9" cy="1522.4" r="2.3"/><circle cx="119.3" cy="1522.4" r="2.3"/><circle cx="135.8" cy="1522.4" r="2.3"/><circle cx="152.3" cy="1522.4" r="2.3"/><circle cx="168.8" cy="1522.4" r="2.3"/><circle cx="185.2" cy="1522.4" r="2.3"/><circle cx="201.7" cy="1522.4" r="2.3"/><circle cx="218.2" cy="1522.4" r="2.3"/><circle cx="234.6" cy="1522.4" r="2.3"/><circle cx="251.1" cy="1522.4" r="2.3"/><circle cx="267.6" cy="1522.4" r="2.3"/><circle cx="284.0" cy="1522.4" r="2.3"/><circle cx="300.5" cy="1522.4" r="2.3"/><circle cx="317.0" cy="1522.4" r="2.3"/><circle cx="333.5" cy="1522.4" r="2.3"/><circle cx="349.9" cy="1522.4" r="2.3"/><circle cx="366.4" cy="1522.4" r="2.3"/><circle cx="382.9" cy="1522.4" r="2.3"/><circle cx="399.3" cy="1522.4" r="2.3"/>
  </g>
  <text x="45" y="1304" font-size="39.5" font-weight="bold" fill="#fd8a0c" textLength="340" lengthAdjust="spacingAndGlyphs">Controller &amp; Timer</text>
  <text x="98.3" y="1353.5" font-size="25" font-weight="bold" fill="#000" transform="translate(1.3,1.6)" textLength="226.7" lengthAdjust="spacingAndGlyphs">CAHO Controller &amp;</text>
  <text x="98.3" y="1385.2" font-size="25" font-weight="bold" fill="#000" transform="translate(1.3,1.6)" textLength="225" lengthAdjust="spacingAndGlyphs">Timer from Taiwan</text>
  <text x="98.3" y="1353.5" font-size="25" font-weight="bold" fill="#fff" textLength="226.7" lengthAdjust="spacingAndGlyphs">CAHO Controller &amp;</text>
  <text x="98.3" y="1385.2" font-size="25" font-weight="bold" fill="#fff" textLength="225" lengthAdjust="spacingAndGlyphs">Timer from Taiwan</text>
</g>
</svg>
</body></html>
